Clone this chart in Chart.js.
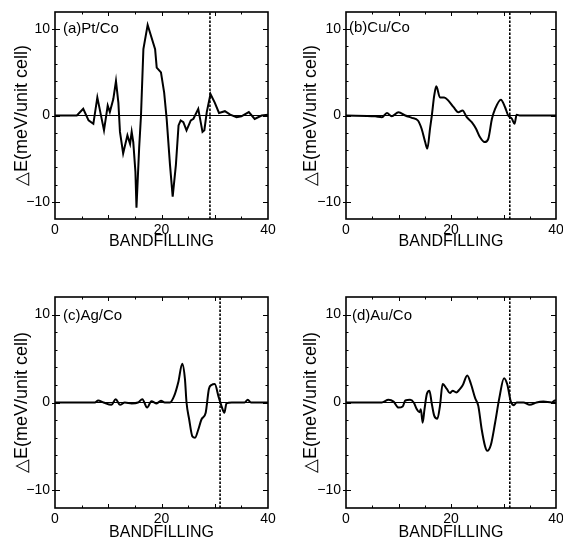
<!DOCTYPE html>
<html>
<head>
<meta charset="utf-8">
<script src="https://cdn.jsdelivr.net/npm/chart.js@4.4.1/dist/chart.umd.min.js"></script>
<style>
  html, body { margin: 0; padding: 0; background: #fff; }
  #wrap { position: relative; width: 563px; height: 544px; overflow: hidden; }
  canvas { position: absolute; }
</style>
</head>
<body>
<div id="wrap">
  <canvas id="panelA" width="280" height="270" style="left:0;top:0"></canvas>
  <canvas id="panelB" width="283" height="270" style="left:280px;top:0"></canvas>
  <canvas id="panelC" width="280" height="274" style="left:0;top:270px"></canvas>
  <canvas id="panelD" width="283" height="274" style="left:280px;top:270px"></canvas>
</div>
<script>
  // Data (bandfilling vs energy difference)
  const ptCoX = [0, 4.1, 5.3, 6.3, 7.2, 7.95, 9.2, 9.9, 10.3, 10.95, 11.45, 11.9, 12.2, 12.8, 13.6, 14.1, 14.4, 14.7, 15.1, 15.3, 15.8, 16.15, 16.6, 17.4, 18.8, 19.1, 19.9, 20.5, 20.97, 21.6, 22.1, 22.7, 23.2, 23.6, 24.1, 24.7, 25.5, 26.0, 26.9, 27.7, 28.05, 28.5, 29.2, 30.0, 30.8, 31.9, 32.9, 34.1, 35.0, 36.4, 37.5, 38.8, 40];
  const ptCoY = [0, 0, 0.77, -0.57, -0.96, 2.1, -1.72, 1.15, 0.4, 1.9, 4.0, 1.5, -1.9, -4.4, -2.3, -3.3, -1.9, -3.1, -6.5, -10.7, -3.8, 0, 7.7, 10.5, 7.7, 5.55, 5.0, 2.65, -0.4, -5.75, -9.4, -5.75, -1.15, -0.57, -0.77, -1.72, -0.57, -0.38, 0.77, -1.9, -1.7, 0.4, 2.5, 1.5, 0.3, 0.5, 0.1, -0.2, -0.1, 0.4, -0.4, 0, 0.1];

  const cuCoX = [0, 5.57, 6.84, 7.8, 8.7, 10.0, 11.3, 12.54, 13.7, 14.4, 15.08, 15.5, 16.0, 16.35, 16.8, 17.2, 17.9, 18.7, 19.5, 20.5, 21.4, 22.2, 23.0, 23.95, 24.77, 25.5, 26.4, 27.1, 27.8, 28.4, 29.5, 30.3, 30.9, 31.6, 32.1, 32.5, 33.1, 40];
  const cuCoY = [0, -0.1, -0.2, 0.3, -0.1, 0.38, 0, -0.27, -0.58, -1.54, -3.08, -3.84, -1.54, 0, 2.3, 3.38, 2.1, 2.1, 1.73, 0.96, 0.38, 0.58, -0.19, -0.77, -1.54, -2.5, -3.08, -2.7, -0.38, 0.77, 1.84, 0.96, 0, -0.38, -0.96, 0.08, 0, 0];

  const agCoX = [0, 7.5, 8.1, 9.1, 10.6, 11.4, 12.2, 13.1, 14.4, 15.6, 16.4, 17.3, 18.1, 19.1, 19.9, 20.6, 21.6, 22.4, 23.15, 23.9, 24.4, 24.7, 25.2, 25.8, 26.3, 26.9, 27.5, 28.3, 28.9, 29.4, 30.0, 30.7, 31.3, 31.8, 32.2, 33.2, 35.6, 36.2, 36.8, 40];
  const agCoY = [0, 0, 0.23, 0, -0.27, 0.38, -0.27, 0, -0.1, 0, 0.38, -0.58, 0.15, -0.1, 0.2, 0, 0, 0.77, 2.3, 4.42, 2.69, 0, -1.93, -3.85, -4.0, -3.1, -1.93, -1.16, 1.54, 2.0, 2.1, 0.7, -0.46, -1.16, -0.1, 0, 0, 0.3, 0, 0];

  const auCoX = [0, 6.8, 8.1, 9.05, 10.0, 10.8, 11.3, 12.2, 12.9, 13.5, 14.0, 14.25, 14.6, 14.95, 15.4, 15.9, 16.3, 16.8, 17.4, 17.9, 18.4, 19.2, 19.8, 20.3, 21.0, 21.6, 22.2, 23.1, 23.8, 24.6, 25.2, 25.85, 26.5, 26.9, 27.6, 28.4, 29.2, 30.1, 30.7, 31.4, 32.0, 32.5, 33.8, 35.0, 36.3, 37.6, 39.2, 39.8, 40];
  const auCoY = [0, 0, 0.3, 0.1, -0.58, -0.46, 0.23, 0.3, 0, -0.77, -1.1, -0.77, -2.3, -0.77, 0.96, 1.35, 0, -1.5, -1.85, -0.38, 2.1, 1.54, 1.08, 1.35, 1.15, 1.46, 1.92, 3.07, 2.1, 0.5, -0.38, -3.07, -5.0, -5.5, -4.8, -2.3, 0.5, 2.77, 2.1, 0.1, -0.3, 0, 0, -0.27, 0, 0.1, 0, 0.23, 0.23];

  // dotted vertical line in each panel
  const fermiLevels = [29.1, 31.2, 31.0, 31.2];
  const panelLabels = ['(a)Pt/Co', '(b)Cu/Co', '(c)Ag/Co', '(d)Au/Co'];

  const xTickLabels = [0, 20, 40];
  const yTickLabels = [-10, 0, 10];
  const xRange = [0, 40];
  const yRange = [-12, 12];

  const FONT = "'Liberation Sans', Arial, Helvetica, sans-serif";

  const toPoints = (xs, ys) => xs.map((x, i) => ({ x: x, y: ys[i] }));

  // frame, inward ticks and panel label
  const frameTicks = {
    id: 'frameTicks',
    afterDatasetsDraw(chart, args, opts) {
      const { ctx, chartArea: a, scales: { x, y } } = chart;
      ctx.save();
      ctx.strokeStyle = '#000';
      ctx.lineWidth = 1;
      ctx.beginPath();
      for (let v = xRange[0] + 5; v < xRange[1]; v += 5) {
        const px = Math.round(x.getPixelForValue(v)) + 0.5;
        const len = v % 10 === 0 ? 4 : 2.5;
        ctx.moveTo(px, a.bottom); ctx.lineTo(px, a.bottom - len);
        ctx.moveTo(px, a.top); ctx.lineTo(px, a.top + len);
      }
      for (let v = -10; v <= 10; v += 2) {
        const py = Math.round(y.getPixelForValue(v)) + 0.5;
        const major = v % 10 === 0;
        const len = major ? 5 : 2.5;
        ctx.moveTo(a.left - (major ? 3 : 0), py); ctx.lineTo(a.left + len, py);
        ctx.moveTo(a.right, py); ctx.lineTo(a.right - len, py);
      }
      ctx.stroke();

      ctx.lineWidth = 1.6;
      ctx.strokeRect(a.left, a.top, a.right - a.left, a.bottom - a.top);

      ctx.fillStyle = '#000';
      ctx.font = '15px ' + FONT;
      ctx.textBaseline = 'middle';
      ctx.textAlign = 'left';
      ctx.fillText(opts.label, a.left + opts.dx, a.top + opts.dy);
      ctx.restore();
    }
  };

  const panels = [
    { id: 'panelA', xs: ptCoX, ys: ptCoY, pad: { left: 5, top: 12, right: 12, bottom: 15 }, xTitlePad: 4, yTitlePad: 6, dx: 8, dy: 17, tension: 0 },
    { id: 'panelB', xs: cuCoX, ys: cuCoY, pad: { left: 16, top: 12, right: 7, bottom: 15 }, xTitlePad: 4, yTitlePad: 4, dx: 3, dy: 15.5, tension: 0.3 },
    { id: 'panelC', xs: agCoX, ys: agCoY, pad: { left: 5, top: 27, right: 12, bottom: 0 }, xTitlePad: 2, yTitlePad: 6, dx: 8, dy: 19, tension: 0.3 },
    { id: 'panelD', xs: auCoX, ys: auCoY, pad: { left: 16, top: 27, right: 7, bottom: 0 }, xTitlePad: 2, yTitlePad: 4, dx: 6, dy: 19, tension: 0.3 }
  ];

  panels.forEach((p, i) => {
    new Chart(document.getElementById(p.id), {
      type: 'scatter',
      data: {
        datasets: [
          {
            data: [{ x: xRange[0], y: 0 }, { x: xRange[1], y: 0 }],
            showLine: true, borderColor: '#000', borderWidth: 1, pointRadius: 0
          },
          {
            data: [{ x: fermiLevels[i], y: yRange[0] }, { x: fermiLevels[i], y: yRange[1] }],
            showLine: true, borderColor: '#000', borderWidth: 1.6, borderDash: [2.5, 1.5], pointRadius: 0
          },
          {
            data: toPoints(p.xs, p.ys),
            showLine: true, borderColor: '#000', borderWidth: 2, pointRadius: 0,
            tension: p.tension, cubicInterpolationMode: p.tension ? 'monotone' : 'default'
          }
        ]
      },
      options: {
        responsive: false,
        animation: false,
        events: [],
        layout: { padding: p.pad },
        plugins: {
          legend: { display: false },
          tooltip: { enabled: false },
          frameTicks: { label: panelLabels[i], dx: p.dx, dy: p.dy }
        },
        scales: {
          x: {
            type: 'linear',
            min: xRange[0], max: xRange[1],
            grid: { display: false, drawTicks: false },
            border: { display: false },
            afterBuildTicks: (s) => { s.ticks = xTickLabels.map(v => ({ value: v })); },
            afterFit: (s) => { s.height = 36; s.paddingLeft = 0; s.paddingRight = 0; },
            ticks: { color: '#000', padding: 3, maxRotation: 0, font: { family: FONT, size: 14 } },
            title: {
              display: true, text: 'BANDFILLING', color: '#000',
              padding: { top: 0, bottom: p.xTitlePad },
              font: { family: FONT, size: 16 }
            }
          },
          y: {
            type: 'linear',
            min: yRange[0], max: yRange[1],
            grid: { display: false, drawTicks: false },
            border: { display: false },
            afterBuildTicks: (s) => { s.ticks = yTickLabels.map(v => ({ value: v })); },
            afterFit: (s) => { s.width = 50; s.paddingTop = 0; s.paddingBottom = 0; },
            ticks: {
              color: '#000', padding: 5, font: { family: FONT, size: 14 },
              callback: (v) => v < 0 ? '\u2212' + Math.abs(v) : String(v)
            },
            title: {
              display: true, text: '\u25B3E(meV/unit cell)', color: '#000',
              padding: { top: p.yTitlePad, bottom: 0 },
              font: { family: FONT, size: 18 }
            }
          }
        }
      },
      plugins: [frameTicks]
    });
  });
</script>
</body>
</html>
